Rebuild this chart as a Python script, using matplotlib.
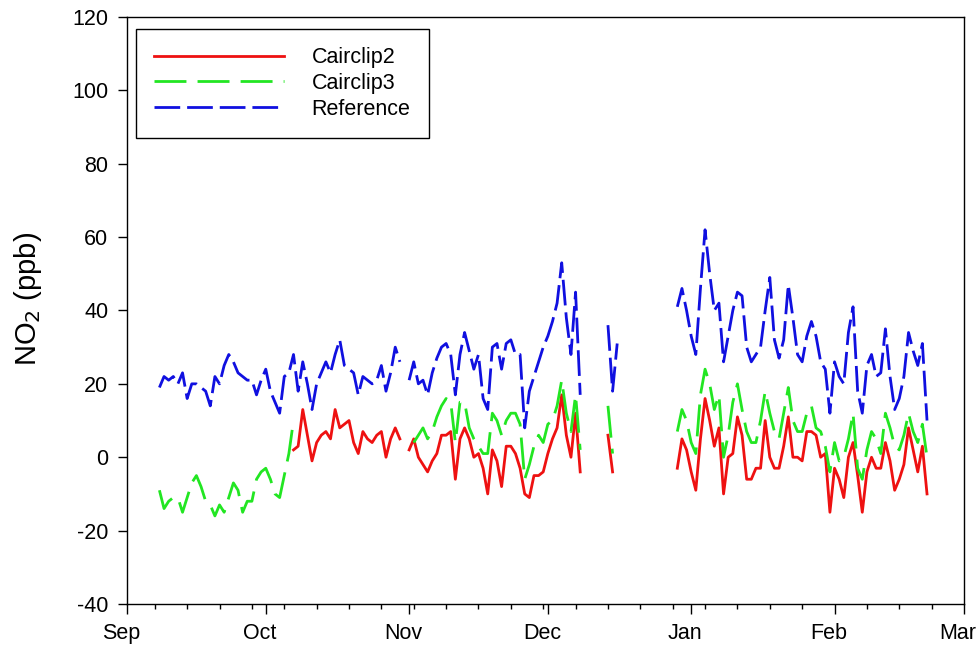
import numpy as np
import pandas as pd
import matplotlib
matplotlib.use("Agg")
import matplotlib.pyplot as plt
import matplotlib.dates as mdates
from matplotlib.transforms import ScaledTranslation

plt.rcParams['font.family'] = ['Liberation Sans', 'DejaVu Sans']
plt.rcParams['lines.scale_dashes'] = False
plt.rcParams['axes.unicode_minus'] = False

# daily NO2 (ppb), 2014-09-08 .. 2015-02-21, None = no data
start_day = "2014-09-08"

reference = [
    19, 22, 21, 22, 20, 23, 16, 20, 20, 19,
    18, 14, 22, 20, 25, 28, 26, 23, 22, 21,
    21, 17, 21, 24, 18, 15, 12, 22, 23, 28,
    18, 26, 20, 13, 20, 23, 26, 23, 28, 32,
    25, 24, 23, 17, 22, 21, 20, 21, 25, 18,
    23, 30, 26, None, 21, 26, 20, 21, 17, 23,
    27, 30, 31, 28, 17, 28, 34, 29, 24, 28,
    16, 13, 30, 31, 24, 31, 32, 28, 28, 8,
    18, 22, 26, 30, 33, 37, 42, 53, 38, 28,
    45, 17, None, None, None, None, None, 36, 18, 31,
    None, None, None, None, None, None, None, None, None, None,
    None, None, 41, 46, 40, 33, 28, 46, 62, 50,
    40, 42, 26, 33, 40, 45, 44, 30, 26, 28,
    30, 40, 49, 32, 27, 32, 47, 38, 28, 26,
    33, 37, 33, 26, 24, 12, 26, 22, 20, 34,
    41, 18, 12, 25, 28, 22, 23, 35, 22, 13,
    16, 22, 34, 29, 25, 31, 10,
]

cairclip3 = [
    -9, -14, -12, -11, -11, -15, -11, -7, -5, -8,
    -12, -13, -16, -13, -15, -11, -7, -9, -15, -12,
    -12, -6, -4, -3, -6, -10, -11, -5, 1, 10,
    None, None, None, None, None, None, None, None, None, None,
    None, None, None, None, None, None, None, None, None, None,
    None, None, None, None, None, 4, 6, 8, 5, 7,
    11, 14, 16, 15, 4, 15, 15, 8, 5, 3,
    1, 1, 12, 10, 6, 10, 12, 12, 9, -6,
    -2, 3, 6, 4, 9, 10, 14, 21, 12, 7,
    17, 2, None, None, None, None, None, 14, 1, None,
    None, None, None, None, None, None, None, None, None, None,
    None, None, 7, 13, 10, 4, 1, 17, 24, 20,
    13, 17, 0, 6, 15, 20, 13, 7, 4, 4,
    10, 18, 12, 7, 5, 12, 19, 10, 7, 7,
    12, 14, 8, 7, 3, -4, 4, -1, 0, 5,
    12, -3, -6, 2, 7, 5, 1, 12, 8, 3,
    2, 6, 12, 7, 4, 9, 0,
]

cairclip2 = [
    None, None, None, None, None, None, None, None, None, None,
    None, None, None, None, None, None, None, None, None, None,
    None, None, None, None, None, None, None, None, None, 2,
    3, 13, 6, -1, 4, 6, 7, 5, 13, 8,
    9, 10, 4, 1, 7, 5, 4, 6, 7, 0,
    5, 8, 5, None, 2, 5, 0, -2, -4, -1,
    1, 6, 6, 7, -6, 5, 8, 5, 0, 1,
    -3, -10, 2, -1, -8, 3, 3, 1, -3, -10,
    -11, -5, -5, -4, 1, 5, 8, 17, 6, 0,
    12, -4, None, None, None, None, None, 6, -4, None,
    None, None, None, None, None, None, None, None, None, None,
    None, None, -3, 5, 2, -4, -9, 5, 16, 10,
    3, 8, -10, 0, 1, 11, 6, -6, -6, -3,
    -3, 10, 0, -3, -3, 3, 11, 0, 0, -1,
    7, 7, 6, 0, 1, -15, -3, -6, -11, 0,
    4, -5, -15, -4, 0, -3, -3, 4, -1, -9,
    -6, -2, 8, 2, -4, 3, -10,
]

days = pd.date_range(start_day, periods=len(reference), freq="D")

def as_array(values):
    return np.array([np.nan if v is None else v for v in values], dtype=float)

fig = plt.figure(figsize=(9.78, 6.5), dpi=100)
ax = fig.add_axes([0.1299, 0.0708, 0.8558, 0.9031])

ax.plot(days, as_array(cairclip2), color='#ee1111', lw=2.0, label='Cairclip2')
ax.plot(days, as_array(cairclip3), color='#22e622', lw=2.0, dashes=(23, 8), label='Cairclip3')
ax.plot(days, as_array(reference), color='#1010e0', lw=2.0, dashes=(18.5, 5), label='Reference')

ax.set_xlim(pd.Timestamp("2014-09-01"), pd.Timestamp("2015-03-01"))
ax.set_ylim(-40, 120)
ax.set_yticks(np.arange(-40, 121, 20))

ax.xaxis.set_major_locator(mdates.MonthLocator())
ax.xaxis.set_major_formatter(mdates.DateFormatter('%b'))
ax.xaxis.set_minor_locator(mdates.WeekdayLocator(byweekday=mdates.SU))

ax.tick_params(axis='both', which='major', direction='out', width=1, colors='black', labelsize=15.5)
ax.tick_params(axis='x', which='major', length=7, pad=7)
ax.tick_params(axis='x', which='minor', length=3.6, width=1)
ax.tick_params(axis='y', which='major', length=6.5, pad=7)

# month names sit a little left of their ticks
shift = ScaledTranslation(-6 / 100, 0, fig.dpi_scale_trans)
for lbl in ax.get_xticklabels():
    lbl.set_transform(lbl.get_transform() + shift)

for side in ax.spines.values():
    side.set_linewidth(1.0)
    side.set_color('black')

ax.set_ylabel('NO$_2$ (ppb)', fontsize=21)
ax.yaxis.set_label_coords(-0.099, 0.52)

leg = ax.legend(loc='upper left', bbox_to_anchor=(0.0108, 0.9796), borderaxespad=0,
                fontsize=15.5, handlelength=6.0, handletextpad=1.3, labelspacing=0.22,
                borderpad=0.85, fancybox=False, framealpha=1, edgecolor='black')
leg.get_frame().set_linewidth(1.0)

fig.savefig('out.png', dpi=100)
